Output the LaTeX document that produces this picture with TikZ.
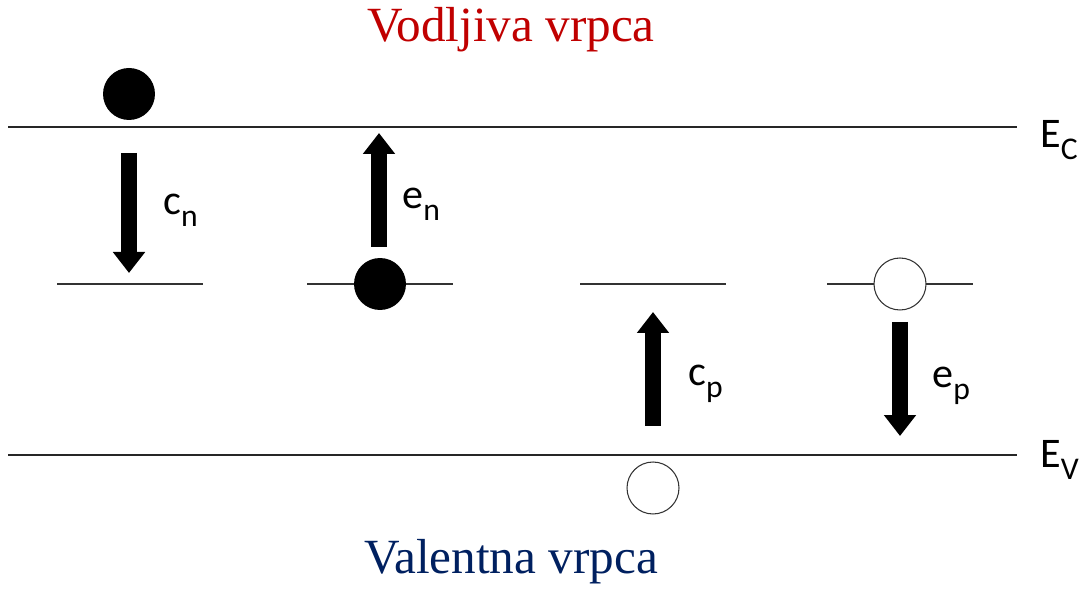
\documentclass[tikz,border=0pt]{standalone}
\usepackage{fontspec}
\setmainfont{Liberation Serif}
\setsansfont{Carlito}
\usetikzlibrary{arrows.meta, positioning}
\definecolor{bandred}{RGB}{192, 0, 0}
\definecolor{bandblue}{RGB}{0, 32, 96}
\newcommand{\lowsub}[1]{\raisebox{-0.28em}{\fontsize{18}{18}\selectfont #1}}

\begin{document}
\begin{tikzpicture}[
    x=0.02cm, y=-0.02cm,
    edge/.style={line width=1.1pt, black!85},
    level/.style={line width=0.8pt, black!80},
    flow/.style={line width=0.32cm, -{Triangle[width=0.62cm, length=0.42cm]}},
    electron/.style={circle, fill=black, minimum size=1.04cm, inner sep=0pt},
    hole/.style={circle, draw=black!80, line width=0.6pt, fill=white, minimum size=1.04cm, inner sep=0pt},
    rate/.style={font=\sffamily\fontsize{24}{24}\selectfont, anchor=base west, inner sep=0pt},
    band/.style={font=\fontsize{28}{28}\selectfont, anchor=base, inner sep=0pt}
]
    \useasboundingbox (0,0) rectangle (1081,590);

    % Band edges
    \coordinate (ec-l) at (8,127);
    \coordinate (ec-r) at (1017,127);
    \coordinate (ev-l) at (8,455);
    \coordinate (ev-r) at (1017,455);
    \draw[edge] (ec-l) -- (ec-r);
    \draw[edge] (ev-l) -- (ev-r);
    \node[rate] (ec) at (1040,148) {E\lowsub{C}};
    \node[rate] (ev) at (1040,468) {E\lowsub{V}};

    % Band names
    \node[band, text=bandred] (cb) at (511,42) {Vodljiva vrpca};
    \node[band, text=bandblue] (vb) at (511,573) {Valentna vrpca};

    % Trap levels
    \foreach \n/\xa in {t1/57, t2/307, t3/580, t4/827} {
        \coordinate (\n-l) at (\xa,284);
        \coordinate (\n-r) at (\xa+146,284);
        \draw[level] (\n-l) -- (\n-r);
    }

    % Carriers
    \node[electron] (e1) at (129,94) {};
    \node[electron] (e2) at (380,284) {};
    \node[hole] (h1) at (653,488) {};
    \node[hole] (h2) at (900,284) {};

    % Capture and emission
    \coordinate (cn-a) at (129,153);
    \coordinate (cn-b) at (129,273);
    \coordinate (en-a) at (379,247);
    \coordinate (en-b) at (379,133);
    \coordinate (cp-a) at (653,426);
    \coordinate (cp-b) at (653,312);
    \coordinate (ep-a) at (900,322);
    \coordinate (ep-b) at (900,436);
    \draw[flow] (cn-a) -- (cn-b);
    \draw[flow] (en-a) -- (en-b);
    \draw[flow] (cp-a) -- (cp-b);
    \draw[flow] (ep-a) -- (ep-b);

    \node[rate] (cn) at (163,215) {c\lowsub{n}};
    \node[rate] (en) at (402,209) {e\lowsub{n}};
    \node[rate] (cp) at (688,386) {c\lowsub{p}};
    \node[rate] (ep) at (932,388) {e\lowsub{p}};
\end{tikzpicture}
\end{document}
